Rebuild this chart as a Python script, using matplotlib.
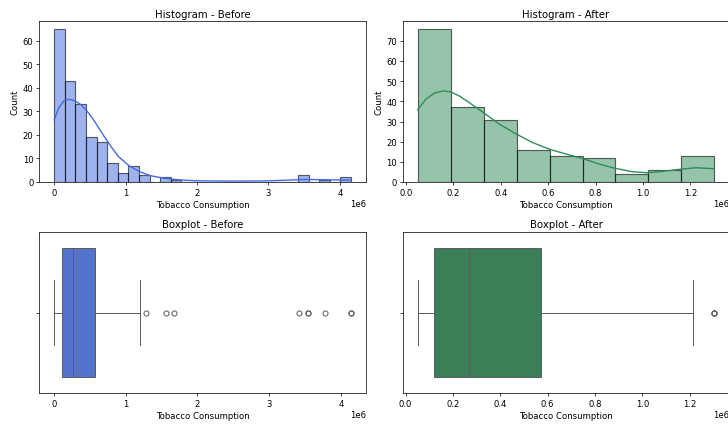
import colorsys
import numpy as np
import matplotlib.pyplot as plt
import matplotlib.colors as mcolors

plt.rcParams['font.size'] = 11.7
plt.rcParams['axes.linewidth'] = 1.0
plt.rcParams['xtick.major.width'] = 1.0
plt.rcParams['ytick.major.width'] = 1.0
plt.rcParams['xtick.major.size'] = 4.5
plt.rcParams['ytick.major.size'] = 4.5

# values in millions (axis shows 1e6 offset)
scale = 1e6

# histogram before: 28 bins from 0 to 4.154
edges_before_range = (0.0, 4.154)
counts_before = [65, 43, 33, 19, 17, 8, 4, 7, 3, 0, 2, 1,
                 0, 0, 0, 0, 0, 0, 0, 0, 0, 0, 0,
                 3, 0, 1, 0, 2]

# histogram after: 9 bins from 0.0505 to 1.3005
edges_after_range = (0.0505, 1.3005)
counts_after = [76, 37, 31, 16, 13, 12, 4, 6, 13]

# kde curves (x in millions, y in counts)
kde_before_x = [0.0, 0.065, 0.135, 0.205, 0.275, 0.368, 0.452, 0.531, 0.601, 0.695,
                0.788, 0.9, 1.049, 1.198, 1.347, 1.58, 1.81, 2.05, 2.51, 2.98,
                3.26, 3.5, 3.77, 4.15]
kde_before_y = [26.3, 31.5, 34.4, 35.1, 34.6, 33.0, 30.4, 27.3, 24.1, 19.6,
                15.4, 10.8, 6.9, 4.4, 2.7, 1.4, 0.8, 0.5, 0.4, 0.5,
                0.8, 1.1, 1.0, 0.8]
kde_after_x = [0.049, 0.084, 0.12, 0.155, 0.187, 0.225, 0.267, 0.326, 0.394, 0.466,
               0.534, 0.605, 0.675, 0.744, 0.816, 0.883, 0.956, 1.021, 1.083, 1.16,
               1.224, 1.301]
kde_after_y = [35.8, 41.1, 44.1, 45.2, 44.7, 42.7, 39.4, 34.5, 28.7, 23.8,
               19.6, 16.3, 13.9, 11.7, 8.9, 6.8, 5.1, 4.6, 5.3, 6.4,
               7.1, 6.6]

# boxplot stats (millions)
box_before = dict(whislo=0.005, q1=0.112, med=0.266, q3=0.568, whishi=1.207,
                  fliers=[1.29, 1.566, 1.669, 3.42, 3.543, 3.543, 3.785, 4.14, 4.14])
box_after = dict(whislo=0.0507, q1=0.121, med=0.269, q3=0.570, whishi=1.216,
                 fliers=[1.304, 1.304, 1.304])


def desat(c, prop=0.75):
    h, l, s = colorsys.rgb_to_hls(*mcolors.to_rgb(c))
    return colorsys.hls_to_rgb(h, l, s * prop)


def hist_panel(ax, counts, rng, kx, ky, color, title):
    edges = np.linspace(rng[0], rng[1], len(counts) + 1) * scale
    face = mcolors.to_rgba(color, 0.5)
    ax.bar(edges[:-1], counts, width=np.diff(edges), align='edge',
           color=face, edgecolor=(0, 0, 0, 0.6), linewidth=1.6)
    ax.plot(np.array(kx) * scale, ky, color=color, linewidth=1.9)
    ax.set_title(title)
    ax.set_xlabel('Tobacco Consumption')
    ax.set_ylabel('Count')


def box_panel(ax, stats, color, title):
    st = dict(stats)
    for k in ['whislo', 'q1', 'med', 'q3', 'whishi']:
        st[k] = st[k] * scale
    st['fliers'] = np.array(st['fliers']) * scale
    line = '#5e5e5e'
    ax.bxp([st], positions=[0], widths=0.8, capwidths=0.4, orientation='horizontal',
           patch_artist=True, showfliers=True,
           boxprops=dict(facecolor=desat(color), edgecolor=line, linewidth=1.4),
           medianprops=dict(color=line, linewidth=1.4),
           whiskerprops=dict(color=line, linewidth=1.4),
           capprops=dict(color=line, linewidth=1.4),
           flierprops=dict(marker='o', markerfacecolor='none', markeredgecolor=line,
                           markersize=7, markeredgewidth=1.4))
    ax.set_ylim(0.5, -0.5)
    ax.set_yticks([0])
    ax.set_yticklabels([''])
    ax.set_title(title)
    ax.set_xlabel('Tobacco Consumption')


fig = plt.figure(figsize=(14, 8.21), dpi=52)
ax1 = fig.add_axes([0.054, 0.5714, 0.4484, 0.377])
ax2 = fig.add_axes([0.5532, 0.5714, 0.4484, 0.377])
ax3 = fig.add_axes([0.054, 0.0766, 0.4484, 0.3785])
ax4 = fig.add_axes([0.5532, 0.0766, 0.4484, 0.3785])

hist_panel(ax1, counts_before, edges_before_range, kde_before_x, kde_before_y,
           'royalblue', 'Histogram - Before')
hist_panel(ax2, counts_after, edges_after_range, kde_after_x, kde_after_y,
           'seagreen', 'Histogram - After')
box_panel(ax3, box_before, 'royalblue', 'Boxplot - Before')
box_panel(ax4, box_after, 'seagreen', 'Boxplot - After')

fig.savefig('out.png', dpi=52)
